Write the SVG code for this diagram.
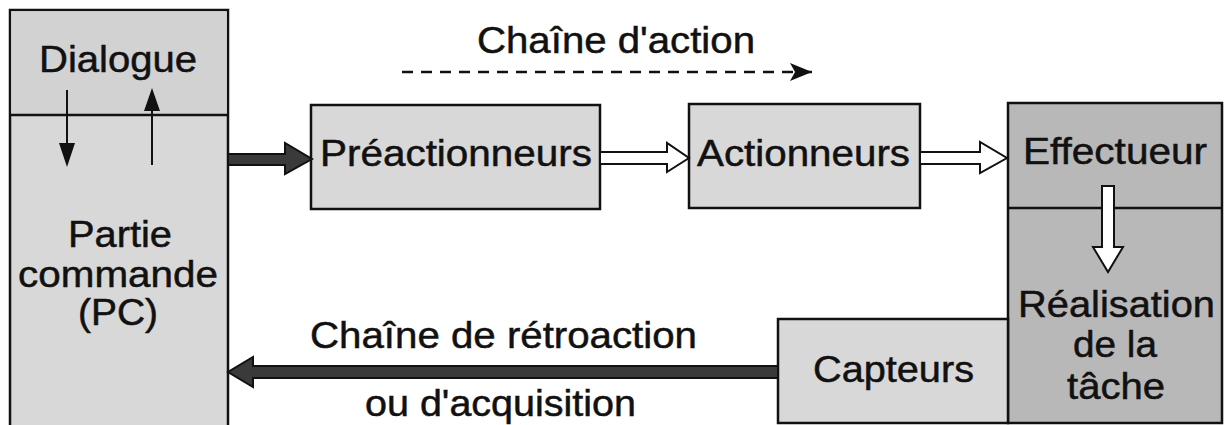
<svg xmlns="http://www.w3.org/2000/svg" width="1224" height="425" viewBox="0 0 1224 425">
<style>
text{font-family:"Liberation Sans",Arial,Helvetica,sans-serif;font-size:37px;fill:#111;stroke:#111;stroke-width:0.5}
.light{fill:#d8d8d8;stroke:#111;stroke-width:2.5}
.dark{fill:#b8b8b8;stroke:#111;stroke-width:2.5}
.div{stroke:#111;stroke-width:2.5}
.hollow{fill:#fff;stroke:#111;stroke-width:2;stroke-linejoin:miter}
.thick{fill:#3a3a3a;stroke:#111;stroke-width:2;stroke-linejoin:miter}
.thin{stroke:#111;stroke-width:2;fill:none}
.head{fill:#111}
</style>
<defs>
<marker id="ah" viewBox="0 0 22 18" refX="22" refY="9" markerWidth="22" markerHeight="18" markerUnits="userSpaceOnUse" orient="auto">
<path d="M0,0 L22,9 L0,18 L5,9 Z" fill="#111"/>
</marker>
</defs>
<rect width="1224" height="425" fill="#fff"/>

<g id="pc">
<rect class="light" x="10" y="10" width="218" height="430"/>
<rect x="11.2" y="11.2" width="215.6" height="103" fill="#d2d2d2"/>
<line class="div" x1="10" y1="115" x2="228" y2="115"/>
<text x="39" y="72" textLength="158" lengthAdjust="spacingAndGlyphs">Dialogue</text>
<text x="68" y="247" textLength="104" lengthAdjust="spacingAndGlyphs">Partie</text>
<text x="18" y="287" textLength="200" lengthAdjust="spacingAndGlyphs">commande</text>
<text x="78" y="325" textLength="80" lengthAdjust="spacingAndGlyphs">(PC)</text>
</g>

<g id="preactionneurs">
<rect class="light" x="311" y="105" width="289" height="104"/>
<text x="320" y="166" textLength="272" lengthAdjust="spacingAndGlyphs">Préactionneurs</text>
</g>

<g id="actionneurs">
<rect class="light" x="689" y="104" width="231" height="104"/>
<text x="697" y="166" textLength="213" lengthAdjust="spacingAndGlyphs">Actionneurs</text>
</g>

<g id="effectueur">
<rect class="dark" x="1008" y="103" width="214" height="320"/>
<line class="div" x1="1008" y1="208" x2="1222" y2="208"/>
<text x="1023" y="164" textLength="184" lengthAdjust="spacingAndGlyphs">Effectueur</text>
<text x="1018" y="317" textLength="197" lengthAdjust="spacingAndGlyphs">Réalisation</text>
<text x="1073" y="357" textLength="84" lengthAdjust="spacingAndGlyphs">de la</text>
<text x="1067" y="399" textLength="98" lengthAdjust="spacingAndGlyphs">tâche</text>
</g>

<g id="capteurs">
<rect class="light" x="778" y="319" width="230" height="104"/>
<text x="813" y="382" textLength="161" lengthAdjust="spacingAndGlyphs">Capteurs</text>
</g>

<g id="labels">
<text x="477" y="53" textLength="278" lengthAdjust="spacingAndGlyphs">Chaîne d'action</text>
<text x="310" y="348" textLength="387" lengthAdjust="spacingAndGlyphs">Chaîne de rétroaction</text>
<text x="365" y="416" textLength="271" lengthAdjust="spacingAndGlyphs">ou d'acquisition</text>
</g>

<g id="connectors">
<line class="thin" x1="67" y1="90" x2="67" y2="145"/>
<path class="head" d="M59,143 L75,143 L67,167 Z"/>
<line class="thin" x1="152" y1="165" x2="152" y2="110"/>
<path class="head" d="M144,111 L160,111 L152,88 Z"/>
<path class="thick" d="M228,154 L285,154 L285,143 L312,159 L285,174 L285,165 L228,165 Z"/>
<path class="hollow" d="M600,152 L667,152 L667,143 L689,158 L667,172 L667,164 L600,164 Z"/>
<path class="hollow" d="M920,152 L980,152 L980,142 L1007,158 L980,173 L980,164 L920,164 Z"/>
<path class="hollow" d="M1102,186 L1114,186 L1114,247 L1123,247 L1108,272 L1093,247 L1102,247 Z"/>
<path class="thick" d="M778,366 L253,366 L253,357 L228,372 L253,387 L253,378 L778,378 Z"/>
<line x1="402" y1="72" x2="812" y2="72" stroke="#111" stroke-width="2.5" stroke-dasharray="11 8" marker-end="url(#ah)"/>
</g>
</svg>
